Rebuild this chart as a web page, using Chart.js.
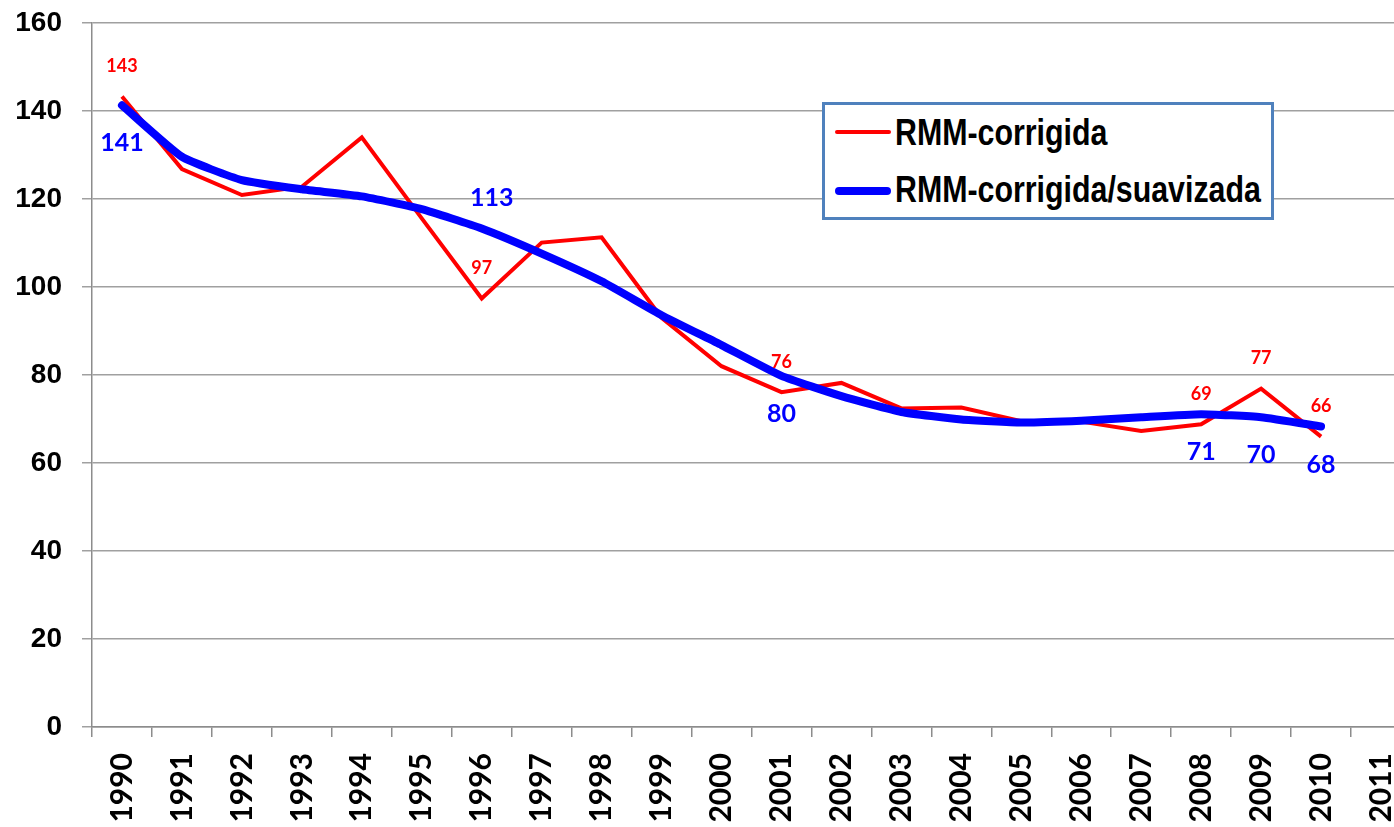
<!DOCTYPE html>
<html>
<head>
<meta charset="utf-8">
<script src="https://cdn.jsdelivr.net/npm/chart.js@4.4.0/dist/chart.umd.min.js"></script>
<style>
  html, body { margin: 0; padding: 0; background: #fff; overflow: hidden; }
  #wrap { position: absolute; left: 0; top: 0; width: 1411px; height: 827px; }
  #legend { position: absolute; left: 822px; top: 102px; width: 446px; height: 112px;
            border: 3px solid #4f81bd; background: #fff; }
  .swatch { position: absolute; left: 10px; width: 56px; border-radius: 4px; }
  .lbl { position: absolute; left: 70px; white-space: nowrap;
         font: bold 37px "Liberation Sans", Arial, sans-serif;
         transform: scaleX(0.82); transform-origin: 0 0;
         line-height: 37px; color: #000; }
</style>
</head>
<body>
<div id="wrap"><canvas id="c" width="1411" height="827"></canvas></div>
<div id="legend">
  <div class="swatch" style="top:25px;height:4px;background:#ff0000"></div>
  <div class="lbl" style="top:9px">RMM-corrigida</div>
  <div class="swatch" style="top:82px;height:8px;background:#0000ff"></div>
  <div class="lbl" style="top:66px">RMM-corrigida/suavizada</div>
</div>
<script>
const years = ['1990','1991','1992','1993','1994','1995','1996','1997','1998','1999','2000',
               '2001','2002','2003','2004','2005','2006','2007','2008','2009','2010','2011'];
const rmmCorrigida = [143.3,126.8,120.9,122.8,134.0,115.6,97.4,110.1,111.3,93.0,82.0,
                      76.1,78.2,72.4,72.6,69.5,69.4,67.3,68.8,76.9,66.0];
const rmmSuavizada = [141.3,129.6,124.3,122.2,120.6,117.7,113.3,107.6,101.3,93.6,86.8,
                      79.8,75.2,71.6,69.9,69.2,69.6,70.4,71.1,70.4,68.3];
const yTicks = [0,20,40,60,80,100,120,140,160];
// indices of points that carry a value label
const labelsCorrigida = [0,6,11,18,19,20];
const labelsSuavizada = [0,6,11,18,19,20];

const labelPlugin = {
  id: 'valueLabels',
  afterDatasetsDraw(chart) {
    const ctx = chart.ctx;
    ctx.save();
    ctx.textAlign = 'center';
    ctx.textBaseline = 'middle';
    const m0 = chart.getDatasetMeta(0);
    ctx.fillStyle = '#ff0000';
    ctx.font = 'bold 18px Lato, sans-serif';
    labelsCorrigida.forEach(i => {
      const p = m0.data[i];
      ctx.fillText(String(Math.round(rmmCorrigida[i])), p.x, p.y - 30);
    });
    const m1 = chart.getDatasetMeta(1);
    ctx.fillStyle = '#0000ff';
    ctx.font = 'bold 25px Lato, sans-serif';
    labelsSuavizada.forEach(i => {
      const p = m1.data[i];
      const txt = String(Math.round(rmmSuavizada[i]));
      if (i === 6) ctx.fillText(txt, p.x + 10, p.y - 31);
      else ctx.fillText(txt, p.x, p.y + 38);
    });
    ctx.restore();
  }
};

function noPad(s) { s.paddingTop = 0; s.paddingBottom = 0; s.paddingLeft = 0; s.paddingRight = 0; }

new Chart(document.getElementById('c'), {
  type: 'line',
  data: {
    labels: years,
    datasets: [
      { label: 'RMM-corrigida', data: rmmCorrigida, borderColor: '#ff0000', backgroundColor: '#ff0000',
        borderWidth: 4, pointRadius: 0, tension: 0, order: 1, borderJoinStyle: 'miter' },
      { label: 'RMM-corrigida/suavizada', data: rmmSuavizada, borderColor: '#0000ff', backgroundColor: '#0000ff',
        borderWidth: 8, pointRadius: 0, tension: 0.15, order: 0, borderCapStyle: 'round', borderJoinStyle: 'round' }
    ]
  },
  options: {
    responsive: false,
    animation: false,
    layout: { padding: { top: 23, right: 0, left: 0, bottom: 0 } },
    plugins: { legend: { display: false }, tooltip: { enabled: false } },
    scales: {
      x: {
        offset: true,
        grid: { offset: true, drawOnChartArea: false, drawTicks: true, tickLength: 10, color: '#8c8c8c', lineWidth: 1.5 },
        border: { color: '#8c8c8c', width: 1.5 },
        ticks: { autoSkip: false, minRotation: 90, maxRotation: 90, padding: 16, color: '#000',
                 font: { family: 'Lato', weight: 'bold', size: 30 } },
        afterFit: s => { s.height = 100; noPad(s); }
      },
      y: {
        min: 0, max: 160,
        afterBuildTicks: s => { s.ticks = yTicks.map(v => ({ value: v })); },
        grid: { color: '#a0a0a0', lineWidth: 1.5, tickLength: 10 },
        border: { color: '#8c8c8c', width: 1.5 },
        ticks: { padding: 20, color: '#000', font: { family: 'Liberation Sans', weight: 'bold', size: 28 } },
        afterFit: s => { s.width = 92; noPad(s); }
      }
    }
  },
  plugins: [labelPlugin]
});
</script>
</body>
</html>
